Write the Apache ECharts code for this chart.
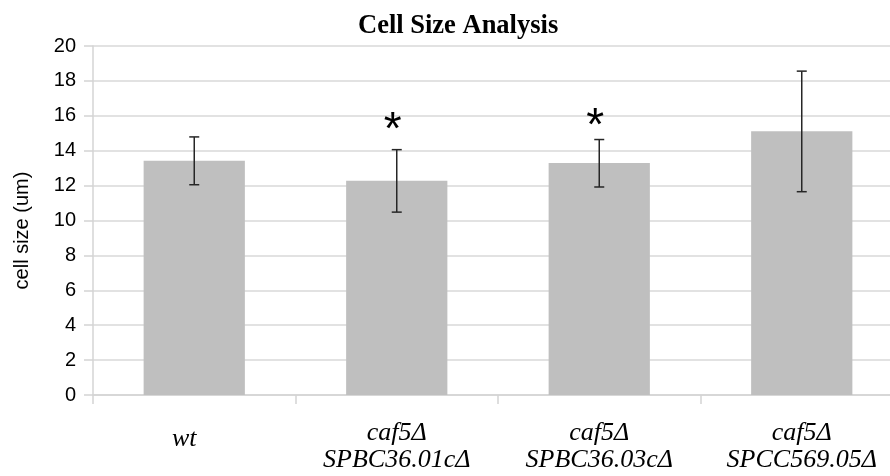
<!DOCTYPE html>
<html>
<head>
<meta charset="utf-8">
<script src="https://cdn.jsdelivr.net/npm/echarts@6/dist/echarts.min.js"></script>
<style>
html,body{margin:0;padding:0;background:#fff;}
#chart{width:890px;height:476px;}
</style>
</head>
<body>
<div id="chart"></div>
<script>
const titleText = 'Cell Size Analysis';
const yAxisName = 'cell size (um)';
const categories = ['wt', 'caf5Δ\nSPBC36.01cΔ', 'caf5Δ\nSPBC36.03cΔ', 'caf5Δ\nSPCC569.05Δ'];
const means = [13.43, 12.28, 13.30, 15.12];
const errLow = [12.05, 10.48, 11.92, 11.65];
const errHigh = [14.79, 14.06, 14.64, 18.56];
// significance asterisks (value level where the mark sits; null = none)
const starLevel = [null, 15.75, 15.95, null];
const yMin = 0, yMax = 20, yStep = 2;

const errData = categories.map((c, i) => [i, errLow[i], errHigh[i], starLevel[i] == null ? -1 : starLevel[i]]);

const chart = echarts.init(document.getElementById('chart'), null, {renderer: 'canvas'});
chart.setOption({
  animation: false,
  backgroundColor: '#ffffff',
  title: {
    text: titleText,
    left: 353,
    top: 8,
    textStyle: {fontFamily: 'Liberation Serif', fontWeight: 'bold', fontSize: 26.5, color: '#000'}
  },
  grid: {left: 93, right: -13, top: 46, bottom: 81, containLabel: false, outerBoundsMode: 'none'},
  xAxis: {
    type: 'category',
    data: categories,
    axisLine: {show: true, lineStyle: {color: '#d4d4d4', width: 1.5}},
    axisTick: {show: true, alignWithLabel: false, length: 9, lineStyle: {color: '#d4d4d4', width: 1.5}},
    axisLabel: {
      interval: 0,
      margin: 25,
      fontFamily: 'Liberation Serif',
      fontStyle: 'italic',
      fontSize: 26,
      lineHeight: 27,
      color: '#000',
      formatter: function (v) { return v.indexOf('\n') < 0 ? '{s|' + v + '}' : v; },
      rich: {s: {fontFamily: 'Liberation Serif', fontStyle: 'italic', fontSize: 26, lineHeight: 27, padding: [12, 20, 0, 0], color: '#000'}}
    },
    splitLine: {show: false}
  },
  yAxis: {
    type: 'value',
    min: yMin, max: yMax, interval: yStep,
    name: yAxisName,
    nameLocation: 'middle',
    nameGap: 61,
    nameRotate: 90,
    nameTextStyle: {fontFamily: 'Liberation Sans', fontSize: 20, color: '#000', padding: [0, 20, 0, 0]},
    axisLine: {show: true, lineStyle: {color: '#d4d4d4', width: 1.5}},
    axisTick: {show: true, length: 9, lineStyle: {color: '#d4d4d4', width: 1.5}},
    axisLabel: {margin: 17, fontFamily: 'Liberation Sans', fontSize: 20, color: '#000'},
    splitLine: {show: true, lineStyle: {color: '#d9d9d9', width: 1.5}}
  },
  series: [
    {
      type: 'bar',
      data: means,
      barWidth: '50%',
      itemStyle: {color: '#bfbfbf'},
      silent: true
    },
    {
      type: 'custom',
      data: errData,
      z: 10,
      silent: true,
      renderItem: function (params, api) {
        const x = api.value(0);
        const lo = api.coord([x, api.value(1)]);
        const hi = api.coord([x, api.value(2)]);
        const cap = 5;
        const st = {stroke: '#262626', lineWidth: 1.5};
        const children = [
          {type: 'line', shape: {x1: lo[0], y1: lo[1], x2: hi[0], y2: hi[1]}, style: st},
          {type: 'line', shape: {x1: lo[0] - cap, y1: lo[1], x2: lo[0] + cap, y2: lo[1]}, style: st},
          {type: 'line', shape: {x1: hi[0] - cap, y1: hi[1], x2: hi[0] + cap, y2: hi[1]}, style: st}
        ];
        if (api.value(3) >= 0) {
          const s = api.coord([x, api.value(3)]);
          children.push({
            type: 'text',
            x: s[0] - 4,
            y: s[1] + 11,
            style: {text: '*', fontFamily: 'Liberation Sans', fontSize: 46, fill: '#000', align: 'center', verticalAlign: 'middle'}
          });
        }
        return {type: 'group', children: children};
      }
    }
  ]
});
</script>
</body>
</html>
